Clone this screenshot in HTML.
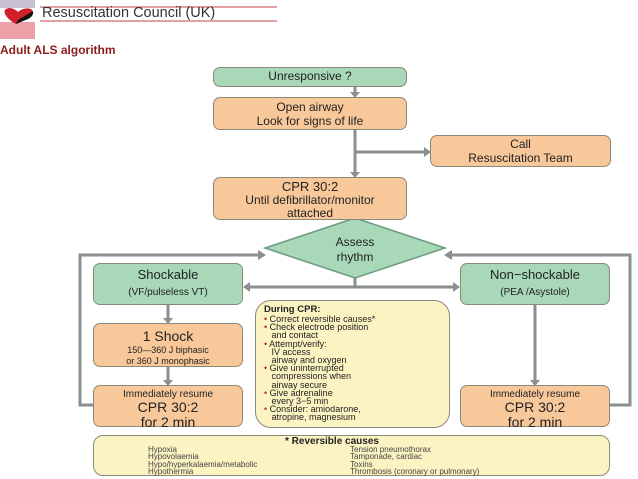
<!DOCTYPE html>
<html><head><meta charset="utf-8"><style>
body{margin:0;width:638px;height:479px;background:#fff;position:relative;overflow:hidden;font-family:"Liberation Sans",sans-serif;color:#222}
.b{position:absolute;box-sizing:border-box;border:1.5px solid #8a8a7a;border-radius:7px;text-align:center}
.g{background:#a8d8b8}.o{background:#f8c89a}.y{background:#fbf3c2}
.t{position:absolute;white-space:nowrap}
</style></head><body>
<div style="position:absolute;left:0;top:0;width:35px;height:8px;background:#c8c0d0"></div>
<div style="position:absolute;left:0;top:22px;width:35px;height:17px;background:#eda0a8"></div>
<svg style="position:absolute;left:0;top:0" width="638" height="479">
<path d="M5 14 Q3 9 9 8 Q14 8 18 12 Q24 7 31 9 Q35 12 30 17 L16 24 Q8 20 5 14Z" fill="#d0202a"/>
<path d="M18 20 L33 11 Q34 16 28 19 L16 24Z" fill="#111"/>
<line x1="40" y1="7" x2="277" y2="7" stroke="#c84040" stroke-width="1"/>
<line x1="40" y1="21" x2="277" y2="21" stroke="#c84040" stroke-width="1"/>
<g stroke="#8a8f92" stroke-width="3" fill="none">
<line x1="355" y1="86" x2="355" y2="95"/>
<line x1="355" y1="130" x2="355" y2="175"/>
<line x1="355" y1="152" x2="428" y2="152"/>
<polyline points="93,405 80,405 80,255 262,255"/>
<polyline points="610,405 630,405 630,255 448,255"/>
<line x1="355" y1="278" x2="355" y2="287"/>
<line x1="245" y1="287" x2="458" y2="287"/>
<line x1="168" y1="305" x2="168" y2="321"/>
<line x1="168" y1="367" x2="168" y2="383"/>
<line x1="535" y1="305" x2="535" y2="383"/>
</g>
<g fill="#8a8f92">
<path d="M350 92 L360 92 L355 98Z"/><path d="M350 172 L360 172 L355 178Z"/>
<path d="M424 147 L424 157 L431 152Z"/>
<path d="M258 250 L258 260 L266 255Z"/><path d="M452 250 L452 260 L444 255Z"/>
<path d="M250 282 L250 292 L243 287Z"/><path d="M453 282 L453 292 L460 287Z"/>
<path d="M163 318 L173 318 L168 324Z"/><path d="M163 380 L173 380 L168 386Z"/>
<path d="M530 380 L540 380 L535 386Z"/>
</g>
<polygon points="355,218 445,248 355,278 265,248" fill="#a8d8b8" stroke="#6a9a80" stroke-width="1.5"/>
<text x="355" y="246" font-size="12" text-anchor="middle" font-family="Liberation Sans" fill="#222">Assess</text>
<text x="355" y="261" font-size="12" text-anchor="middle" font-family="Liberation Sans" fill="#222">rhythm</text>
</svg>
<div class="t" style="left:42px;top:5px;font-size:14.5px;color:#333">Resuscitation Council (UK)</div>
<div class="t" style="left:0;top:43px;font-size:12px;font-weight:bold;color:#8b1c1c">Adult ALS algorithm</div>
<div class="b g" style="left:213px;top:67px;width:194px;height:20px;font-size:12px;line-height:17px">Unresponsive ?</div>
<div class="b o" style="left:213px;top:97px;width:194px;height:33px;font-size:12px;line-height:14px;padding-top:2px">Open airway<br>Look for signs of life</div>
<div class="b o" style="left:430px;top:135px;width:181px;height:32px;font-size:12px;line-height:14px;padding-top:1px">Call<br>Resuscitation Team</div>
<div class="b o" style="left:213px;top:177px;width:194px;height:43px;font-size:12px;line-height:13px;padding-top:2px"><span style="font-size:13px">CPR 30:2</span><br>Until defibrillator/monitor<br>attached</div>
<div class="b g" style="left:93px;top:263px;width:150px;height:42px;line-height:16px;padding-top:3px"><span style="font-size:13px">Shockable</span><br><span style="font-size:10px">(VF/pulseless VT)</span></div>
<div class="b g" style="left:460px;top:263px;width:150px;height:42px;line-height:16px;padding-top:3px"><span style="font-size:13px">Non−shockable</span><br><span style="font-size:10px">(PEA /Asystole)</span></div>
<div class="b o" style="left:93px;top:323px;width:150px;height:44px;line-height:11px;padding-top:3px;font-size:9px"><span style="font-size:14px;line-height:18px">1 Shock</span><br>150—360 J biphasic<br>or 360 J monophasic</div>
<div class="b o" style="left:93px;top:385px;width:150px;height:42px;line-height:13px;padding-top:2px;font-size:10px">Immediately resume<br><span style="font-size:14px">CPR 30:2<br>for 2 min</span></div>
<div class="b o" style="left:460px;top:385px;width:150px;height:42px;line-height:13px;padding-top:2px;font-size:10px">Immediately resume<br><span style="font-size:14px">CPR 30:2<br>for 2 min</span></div>
<div class="b y" style="left:255px;top:300px;width:195px;height:128px;border-radius:16px;text-align:left;font-size:9px;line-height:8.2px;padding:4px 0 0 8px">
<b style="font-size:9.5px;line-height:10px">During CPR:</b><br>
<span style="color:#c22">•</span> Correct reversible causes*<br>
<span style="color:#c22">•</span> Check electrode position<br>&nbsp;&nbsp;&nbsp;and contact<br>
<span style="color:#c22">•</span> Attempt/verify:<br>&nbsp;&nbsp;&nbsp;IV access<br>&nbsp;&nbsp;&nbsp;airway and oxygen<br>
<span style="color:#c22">•</span> Give uninterrupted<br>&nbsp;&nbsp;&nbsp;compressions when<br>&nbsp;&nbsp;&nbsp;airway secure<br>
<span style="color:#c22">•</span> Give adrenaline<br>&nbsp;&nbsp;&nbsp;every 3−5 min<br>
<span style="color:#c22">•</span> Consider: amiodarone,<br>&nbsp;&nbsp;&nbsp;atropine, magnesium</div>
<div class="b y" style="left:93px;top:435px;width:517px;height:41px;border-radius:10px"></div>
<div class="t" style="left:285px;top:436px;font-size:10px;font-weight:bold;line-height:11px">* Reversible causes</div>
<div class="t" style="left:148px;top:446px;font-size:8px;line-height:7.3px;color:#444">Hypoxia<br>Hypovolaemia<br>Hypo/hyperkalaemia/metabolic<br>Hypothermia</div>
<div class="t" style="left:350px;top:446px;font-size:8px;line-height:7.3px;color:#444">Tension pneumothorax<br>Tamponade, cardiac<br>Toxins<br>Thrombosis (coronary or pulmonary)</div>
</body></html>
